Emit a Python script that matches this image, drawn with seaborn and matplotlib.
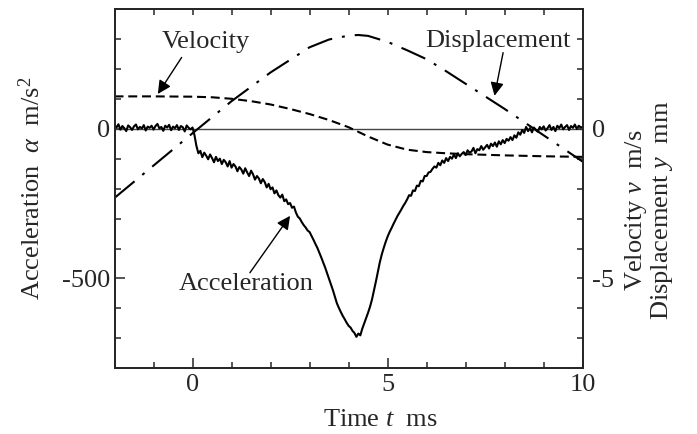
import numpy as np
import pandas as pd
import matplotlib
matplotlib.use("Agg")
import matplotlib.pyplot as plt
from matplotlib.ticker import MultipleLocator, FixedLocator
import seaborn as sns

# ---------------- data ----------------
# acceleration, m/s^2, sampled every 0.05 ms from -2 to 10 ms
acc_t_start, acc_t_step = -2.0, 0.05
acc_values = [
    12, 4, 15, -3, 9, 2, -8, 11, 5, -4, 8, 14, -2, 6, 1, 12, -6, 7, 3, 10,
    -3, 9, 16, 1, 6, -7, 10, 4, 13, -5, 7, 2, 12, -4, 9, 5, -9, 11, 3, -2,
    4, -22, -58, -82, -74, -95, -80, -90, -102, -86, -98, -112, -94, -108, -100, -118, -104, -112, -126, -108,
    -130, -118, -126, -142, -128, -136, -150, -132, -146, -158, -140, -152, -170, -158, -166, -182, -168, -178, -196, -184,
    -202, -196, -216, -206, -222, -230, -220, -242, -236, -252, -248, -264, -260, -280, -294, -300, -312, -322, -330, -340,
    -345, -358, -371, -385, -398, -414, -430, -447, -464, -483, -502, -520, -540, -562, -583, -598, -612, -625, -636, -648,
    -658, -664, -675, -682, -695, -684, -690, -668, -650, -632, -614, -594, -570, -540, -510, -478, -446, -420, -398, -378,
    -360, -345, -332, -318, -305, -292, -281, -270, -258, -248, -236, -222, -224, -206, -208, -190, -192, -174, -176, -158,
    -158, -146, -144, -134, -126, -130, -114, -122, -106, -114, -98, -108, -94, -100, -86, -98, -82, -92, -84, -78,
    -88, -72, -80, -76, -64, -82, -68, -72, -58, -70, -62, -54, -66, -50, -58, -46, -60, -42, -52, -38,
    -48, -34, -40, -28, -38, -22, -30, -12, -20, -4, -14, 6, -8, 2, -12, 4, -4, -10, 6, -2,
    8, -6, 2, 12, -4, 6, -8, 10, 2, 14, -2, 6, 12, -4, 9, 3, 14, -1, 10, 4,
    6,
]
acc_time = [round(acc_t_start + i * acc_t_step, 2) for i in range(len(acc_values))]

# velocity, m/s
vel_time = [-2, -1, 0, 0.5, 1.0, 1.5, 2.0, 2.5, 3.0, 3.5, 4.0, 4.5, 5.0, 5.5, 6.0, 6.5, 7.0, 7.5, 8.0, 9.0, 10.0]
vel_values = [1.08, 1.08, 1.07, 1.05, 1.00, 0.92, 0.81, 0.66, 0.49, 0.29, 0.05, -0.26, -0.53, -0.70,
              -0.78, -0.82, -0.85, -0.87, -0.89, -0.92, -0.94]

# displacement, mm
disp_time = [-2, -1, 0, 1, 2, 3, 3.5, 4, 4.25, 4.5, 5, 5.5, 6, 6.5, 7, 7.5, 8, 8.5, 9, 9.5, 10]
disp_values = [-2.31, -1.23, -0.15, 0.92, 1.88, 2.72, 2.98, 3.11, 3.13, 3.10, 2.90, 2.62, 2.32, 1.92,
               1.50, 1.08, 0.66, 0.22, -0.22, -0.66, -1.10]

x_major = [0, 5, 10]
left_major = [0, -500]
right_major = [0, -5]

acc_df = pd.DataFrame({"t": acc_time, "a": acc_values})
vel_df = pd.DataFrame({"t": vel_time, "v": vel_values})
disp_df = pd.DataFrame({"t": disp_time, "y": disp_values})

# ---------------- style ----------------
sns.set_theme(style="ticks")
plt.rcParams.update({
    "font.family": ["Liberation Serif", "DejaVu Serif"],
    "mathtext.fontset": "custom",
    "mathtext.rm": "Liberation Serif",
    "mathtext.it": "Liberation Serif:italic",
    "mathtext.bf": "Liberation Serif:bold",
    "axes.unicode_minus": False,
    "font.size": 19,
    "axes.linewidth": 1.3,
    "xtick.direction": "in",
    "ytick.direction": "in",
})
FS = 19

fig = plt.figure(figsize=(6.97, 4.34), dpi=100)
ax = fig.add_axes([0.1643, 0.1514, 0.6717, 0.828])
ax2 = ax.twinx()

ax.axhline(0, color="#444444", lw=1.0, zorder=1)

sns.lineplot(data=acc_df, x="t", y="a", ax=ax, color="black", lw=1.5,
             estimator=None, sort=False, zorder=3)
sns.lineplot(data=vel_df, x="t", y="v", ax=ax2, color="black", lw=1.5,
             estimator=None, sort=False)
sns.lineplot(data=disp_df, x="t", y="y", ax=ax2, color="black", lw=1.5,
             estimator=None, sort=False)
ax2.lines[0].set_dashes((4.3, 2.3))
ax2.lines[1].set_dashes((12.5, 4.8, 1.4, 4.8))

ax.set_xlim(-2, 10)
ax.set_ylim(-800, 400)
ax2.set_ylim(-8, 4)

ax.xaxis.set_major_locator(FixedLocator(x_major))
ax.xaxis.set_minor_locator(MultipleLocator(1))
ax.yaxis.set_major_locator(FixedLocator(left_major))
ax.yaxis.set_minor_locator(MultipleLocator(100))
ax2.yaxis.set_major_locator(FixedLocator(right_major))
ax2.yaxis.set_minor_locator(MultipleLocator(1))

ax.tick_params(axis="both", which="major", length=7.2, width=1.1, labelsize=FS, pad=3)
ax.tick_params(axis="both", which="minor", length=4.0, width=1.1)
ax.tick_params(axis="x", which="major", pad=4)
ax2.tick_params(axis="y", which="both", length=4.3, width=1.1, labelsize=FS, pad=7)

top = ax.secondary_xaxis("top")
top.xaxis.set_major_locator(MultipleLocator(1))
top.tick_params(axis="x", which="major", direction="in", length=4.3, width=1.1, labeltop=False)
top.spines["top"].set_linewidth(1.3)

ax.set_xlabel(r"Time $t$  ms", fontsize=FS, va="center")
ax.xaxis.set_label_coords(0.567, -0.143)
ax.set_ylabel(r"Acceleration  $\alpha$  m/s$^2$", fontsize=FS, va="center")
ax.yaxis.set_label_coords(-0.178, 0.50)
ax2.set_ylabel("Velocity $v$  m/s\nDisplacement $y$  mm", fontsize=FS, va="center",
               ha="center", linespacing=1.0, rotation=90)
ax2.yaxis.set_label_coords(1.1416, 0.44)

# annotations
arrow_kw = dict(arrowstyle="-|>", lw=1.0, color="black", mutation_scale=20,
                shrinkA=0, shrinkB=0)
ax.text(0.345, 290, "Velocity", fontsize=FS, ha="center", va="center")
ax.annotate("", xy=(-0.89, 116), xytext=(-0.28, 238), arrowprops=arrow_kw)
ax.text(7.815, 293, "Displacement", fontsize=FS, ha="center", va="center")
ax.annotate("", xy=(7.74, 110), xytext=(7.96, 254), arrowprops=arrow_kw)
ax.text(1.37, -517, "Acceleration", fontsize=FS, ha="center", va="center")
ax.annotate("", xy=(2.50, -291), xytext=(1.47, -481), arrowprops=arrow_kw)

for a_ in (ax, ax2):
    for s in a_.spines.values():
        s.set_linewidth(1.3)

fig.savefig("out.png", dpi=100)
